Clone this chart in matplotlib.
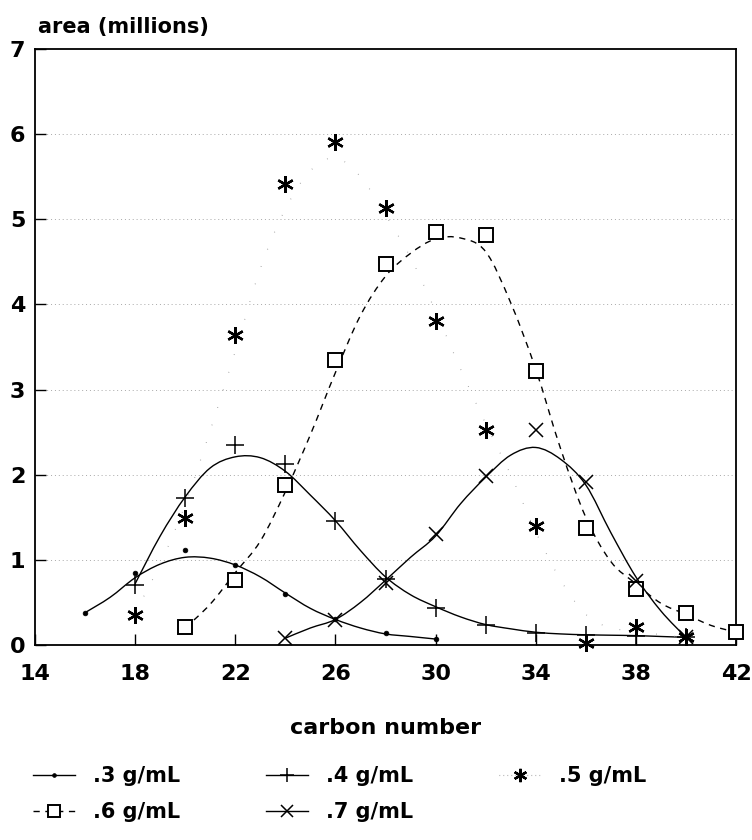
import numpy as np
import matplotlib
matplotlib.use("Agg")
import matplotlib.pyplot as plt
from matplotlib.path import Path
from matplotlib.patches import PathPatch
from matplotlib.lines import Line2D

plt.rcParams['font.family'] = ['DejaVu Sans']
plt.rcParams['font.weight'] = 'bold'

# ---- measured data points ----
x03 = [16, 18, 20, 22, 24, 26, 28, 30]
y03 = [0.38, 0.85, 1.11, 0.94, 0.60, 0.30, 0.14, 0.07]

x04 = [18, 20, 22, 24, 26, 28, 30, 32, 34, 36, 38, 40]
y04 = [0.70, 1.73, 2.35, 2.12, 1.46, 0.78, 0.44, 0.23, 0.14, 0.12, 0.11, 0.09]

x05 = [18, 20, 22, 24, 26, 28, 30, 32, 34, 36, 38, 40]
y05 = [0.35, 1.49, 3.64, 5.42, 5.91, 5.13, 3.80, 2.52, 1.40, 0.02, 0.21, 0.09]

x06 = [20, 22, 24, 26, 28, 30, 32, 34, 36, 38, 40, 42]
y06 = [0.21, 0.76, 1.88, 3.35, 4.47, 4.85, 4.82, 3.22, 1.38, 0.66, 0.37, 0.15]

x07 = [24, 26, 28, 30, 32, 34, 36, 38, 40]
y07 = [0.08, 0.29, 0.73, 1.30, 1.99, 2.52, 1.92, 0.75, 0.09]

# ---- fitted curves (value at each carbon number) ----
fx03 = list(range(16, 31))
fy03 = [0.38, 0.56, 0.79, 0.95, 1.03, 1.02, 0.94, 0.80, 0.61, 0.43, 0.30, 0.20, 0.13, 0.10, 0.07]

fx04 = list(range(18, 41))
fy04 = [0.72, 1.28, 1.74, 2.08, 2.21, 2.20, 2.04, 1.76, 1.46, 1.11, 0.80, 0.59, 0.45, 0.33,
        0.24, 0.19, 0.15, 0.13, 0.12, 0.115, 0.11, 0.10, 0.09]

fx05 = list(range(18, 41))
fy05 = [0.38, 0.95, 1.65, 2.52, 3.45, 4.42, 5.12, 5.57, 5.72, 5.50, 5.05, 4.55, 3.92, 3.24,
        2.60, 2.00, 1.33, 0.76, 0.36, 0.20, 0.17, 0.12, 0.09]

fx06 = list(range(20, 43))
fy06 = [0.20, 0.48, 0.85, 1.22, 1.80, 2.47, 3.20, 3.87, 4.33, 4.60, 4.77, 4.78, 4.62, 4.02,
        3.24, 2.30, 1.50, 0.98, 0.72, 0.49, 0.36, 0.23, 0.15]

fx07 = list(range(24, 41))
fy07 = [0.08, 0.20, 0.30, 0.50, 0.76, 1.03, 1.28, 1.66, 1.97, 2.23, 2.32, 2.18, 1.88, 1.32,
        0.80, 0.40, 0.09]

labels = ['.3 g/mL', '.4 g/mL', '.5 g/mL', '.6 g/mL', '.7 g/mL']
xticks = [14, 18, 22, 26, 30, 34, 38, 42]
yticks = [0, 1, 2, 3, 4, 5, 6, 7]


def smooth_path(xs, ys):
    """Cubic Bezier path (Catmull-Rom control points) through the read curve values."""
    p = np.column_stack([xs, ys]).astype(float)
    n = len(p)
    verts = [p[0]]
    codes = [Path.MOVETO]
    for i in range(n - 1):
        p0 = p[i - 1] if i > 0 else p[i]
        p1 = p[i]
        p2 = p[i + 1]
        p3 = p[i + 2] if i + 2 < n else p[i + 1]
        c1 = p1 + (p2 - p0) / 6.0
        c2 = p2 - (p3 - p1) / 6.0
        verts += [c1, c2, p2]
        codes += [Path.CURVE4] * 3
    return Path(verts, codes)


fig = plt.figure(figsize=(7.52, 8.4), dpi=100)
ax = fig.add_axes([35 / 752, 1 - 645 / 840, 701 / 752, 596 / 840])
ax.set_xlim(14, 42)
ax.set_ylim(0, 7)

for yv in yticks[1:-1]:
    ax.axhline(yv, color='#a8a8a8', lw=0.7, ls=(0, (1, 3)), zorder=0)

lw = 1.0
styles = [
    dict(ls='-', color='black', lw=lw),
    dict(ls='-', color='black', lw=lw),
    dict(ls=(0, (0.6, 16)), color='#8a8a8a', lw=0.8),
    dict(ls=(0, (4.5, 4)), color='black', lw=lw),
    dict(ls='-', color='black', lw=lw),
]
curves = [(fx03, fy03), (fx04, fy04), (fx05, fy05), (fx06, fy06), (fx07, fy07)]
for (cx, cy), st in zip(curves, styles):
    patch = PathPatch(smooth_path(cx, cy), facecolor='none', edgecolor=st['color'],
                      lw=st['lw'], ls=st['ls'], zorder=2)
    ax.add_patch(patch)

star = (6, 2, 0)
mk = [
    dict(marker='o', ms=3.4, mfc='black', mec='black', mew=0.5),
    dict(marker='+', ms=13, mec='black', mew=1.1),
    dict(marker=star, ms=12, mec='black', mew=1.7),
    dict(marker='s', ms=10, mfc='white', mec='black', mew=1.4),
    dict(marker='x', ms=10, mec='black', mew=1.1),
]
points = [(x03, y03), (x04, y04), (x05, y05), (x06, y06), (x07, y07)]
for (px, py), m in zip(points, mk):
    ax.plot(px, py, ls='none', zorder=3, clip_on=False, **m)

ax.set_xticks(xticks)
ax.set_yticks(yticks)
ax.tick_params(axis='x', direction='in', length=8, width=1.0, pad=14, labelsize=16)
ax.tick_params(axis='y', direction='in', length=8, width=1.0, pad=7, labelsize=16)
for lab in ax.get_xticklabels() + ax.get_yticklabels():
    lab.set_fontweight('bold')
for sp in ax.spines.values():
    sp.set_linewidth(1.3)

ax.set_xlabel('carbon number', fontsize=16, fontweight='bold', labelpad=24)
fig.text(38 / 752, 1 - 27 / 840, 'area (millions)', fontsize=15, fontweight='bold',
         ha='left', va='center')

# legend (row-major order)
handles = []
for st, m in zip(styles, mk):
    hs = dict(st)
    if hs['ls'] == (0, (0.6, 16)):
        hs['ls'] = (0, (0.6, 3))
    handles.append(Line2D([], [], color=hs['color'], lw=hs['lw'], ls=hs['ls'], **m))
order = [0, 3, 1, 4, 2]
leg = fig.legend([handles[i] for i in order], [labels[i] for i in order], ncol=3,
                 loc='upper left', bbox_to_anchor=(33 / 752, 1 - 766 / 840),
                 frameon=False, prop={'weight': 'bold', 'size': 15},
                 borderpad=0, borderaxespad=0,
                 handlelength=2.0, handletextpad=0.9, columnspacing=4.1,
                 labelspacing=0.78, markerscale=0.8)

fig.savefig('out.png', dpi=100)
